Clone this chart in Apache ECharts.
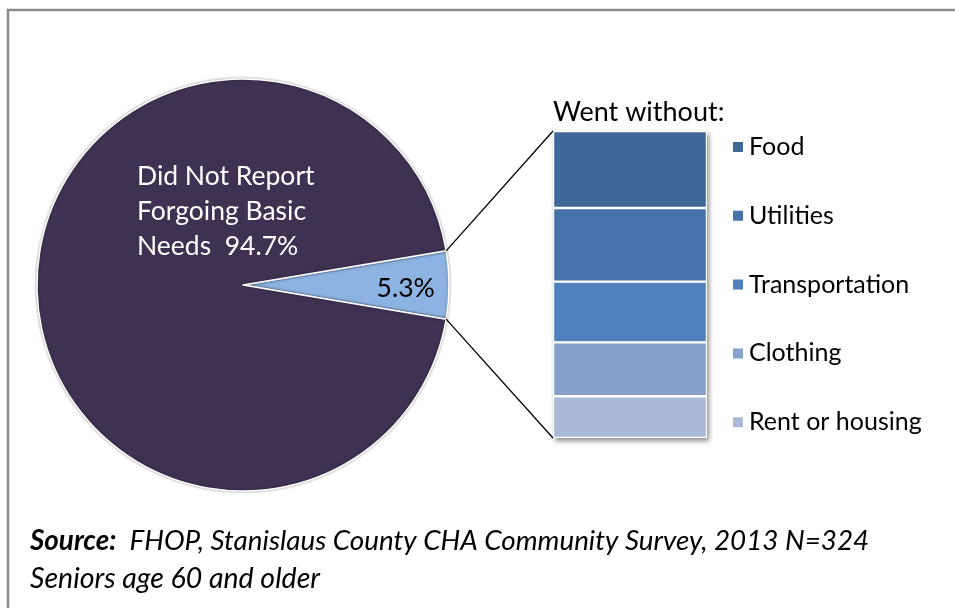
<!DOCTYPE html>
<html><head><meta charset="utf-8">
<script src="https://cdn.jsdelivr.net/npm/echarts@6/dist/echarts.min.js"></script>
<style>html,body{margin:0;padding:0;background:#fff;overflow:hidden}#c{width:955px;height:608px}</style>
</head><body><div id="c"></div>
<script>
// ---- data ----
const pieNames = ['Reported Forgoing Basic Needs', 'Did Not Report Forgoing Basic Needs'];
const pieValues = [5.3, 94.7];
const pieLabels = ['5.3%', 'Did Not Report\nForgoing Basic\nNeeds  94.7%'];
const pieColors = ['#8DB3E2', '#3F3151'];

const barCategories = ['Food', 'Utilities', 'Transportation', 'Clothing', 'Rent or housing'];
const barValues = [1.33, 1.27, 1.05, 0.93, 0.72];
const barColors = ['#3F6899', '#4673AA', '#4F81BD', '#86A1CB', '#AAB9D7'];
const barHeader = 'Went without:';

const sourceBold = 'Source:';
const sourceRest = '  FHOP, Stanislaus County CHA Community Survey, 2013 N=324';
const sourceLine2 = 'Seniors age 60 and older';

// ---- layout ----
const FONT = 'Lato, "Open Sans", sans-serif';
const pieCenter = [243, 285];
const pieRadius = 206;
const barTotal = barValues.reduce((a, b) => a + b, 0);
const halfAngle = pieValues[0] / (pieValues[0] + pieValues[1]) * 360 / 2;
const grid = { left: 553, top: 131, width: 154, height: 307 };

const chart = echarts.init(document.getElementById('c'), null, { renderer: 'canvas' });

// bar series stacked bottom-up: reverse order so Food ends on top
const barSeries = barCategories.map((name, i) => ({
  name: name,
  type: 'bar',
  stack: 'w',
  barWidth: '100%',
  data: [barValues[i]],
  itemStyle: { color: barColors[i], borderColor: '#ffffff', borderWidth: 1.2 },
  z: 3,
  emphasis: { disabled: true }
})).reverse();

const option = {
  animation: false,
  backgroundColor: '#ffffff',
  textStyle: { fontFamily: FONT },
  grid: Object.assign({ containLabel: false }, grid),
  xAxis: { type: 'category', data: ['Went without'], show: false },
  yAxis: { type: 'value', min: 0, max: barTotal, show: false },
  legend: {
    data: barCategories,
    orient: 'vertical',
    left: 726,
    top: 127,
    icon: 'rect',
    itemWidth: 12,
    itemHeight: 12,
    itemGap: 38.8,
    textStyle: { fontFamily: FONT, fontSize: 25, color: '#000', lineHeight: 30 },
    selectedMode: false
  },
  series: [
    {
      type: 'pie',
      center: pieCenter,
      radius: pieRadius,
      startAngle: halfAngle,
      clockwise: true,
      avoidLabelOverlap: false,
      silent: true,
      data: pieNames.map((n, i) => ({
        name: n,
        value: pieValues[i],
        itemStyle: { color: pieColors[i] },
        label: {
          show: true,
          position: 'inside',
          formatter: pieLabels[i],
          color: i === 0 ? '#000' : '#fff',
          fontFamily: FONT,
          fontSize: 26.5,
          lineHeight: 35
        }
      })),
      itemStyle: { borderColor: '#ffffff', borderWidth: 1.5, shadowBlur: 3, shadowColor: 'rgba(0,0,0,0.35)' },
      labelLine: { show: false },
      labelLayout: function (p) {
        if (p.dataIndex === 1) {
          return { x: pieCenter[0] - 106, y: pieCenter[1] - 74, align: 'left', verticalAlign: 'middle' };
        }
        return { x: pieCenter[0] + pieRadius * 0.79, y: pieCenter[1] + 3, align: 'center', verticalAlign: 'middle' };
      }
    }
  ].concat(barSeries)
};
chart.setOption(option);

// connectors & decorations computed from the library's scales
const topLeft = chart.convertToPixel({ gridIndex: 0 }, [0, barTotal]);
const botLeft = chart.convertToPixel({ gridIndex: 0 }, [0, 0]);
const bandW = grid.width;
const barLeft = topLeft[0] - bandW / 2;
const a = halfAngle * Math.PI / 180;
const pUp = [pieCenter[0] + pieRadius * Math.cos(a), pieCenter[1] - pieRadius * Math.sin(a)];
const pDn = [pieCenter[0] + pieRadius * Math.cos(a), pieCenter[1] + pieRadius * Math.sin(a)];

chart.setOption({
  graphic: [
    { type: 'rect', shape: { x: 8, y: 10, width: 980, height: 640 }, style: { fill: null, stroke: '#8a8a8a', lineWidth: 2.5 }, z: 0, silent: true },
    { type: 'rect', shape: { x: barLeft, y: topLeft[1], width: bandW, height: botLeft[1] - topLeft[1] },
      style: { fill: '#ffffff', shadowBlur: 5, shadowOffsetX: 2, shadowOffsetY: 3, shadowColor: 'rgba(0,0,0,0.45)' }, z: 1, silent: true },
    { type: 'line', shape: { x1: pUp[0], y1: pUp[1], x2: barLeft, y2: topLeft[1] }, style: { stroke: '#000', lineWidth: 1.3 }, z: 5, silent: true },
    { type: 'line', shape: { x1: pDn[0], y1: pDn[1], x2: barLeft, y2: botLeft[1] }, style: { stroke: '#000', lineWidth: 1.3 }, z: 5, silent: true },
    { type: 'text', style: { x: barLeft, y: 112, text: barHeader, fill: '#000', font: '27px ' + FONT, verticalAlign: 'middle', align: 'left' }, z: 5, silent: true },
    { type: 'text', style: {
        x: 30, y: 541, verticalAlign: 'middle', align: 'left',
        text: '{b|' + sourceBold + '}{i|' + sourceRest + '}',
        rich: {
          b: { fontFamily: FONT, fontSize: 27.8, fontStyle: 'italic', fontWeight: 'bold', fill: '#000' },
          i: { fontFamily: FONT, fontSize: 27.8, fontStyle: 'italic', fill: '#000' }
        }
      }, z: 5, silent: true },
    { type: 'text', style: { x: 30, y: 579, text: sourceLine2, fill: '#000', font: 'italic 28.5px ' + FONT, verticalAlign: 'middle', align: 'left' }, z: 5, silent: true }
  ]
});
</script>
</body></html>
